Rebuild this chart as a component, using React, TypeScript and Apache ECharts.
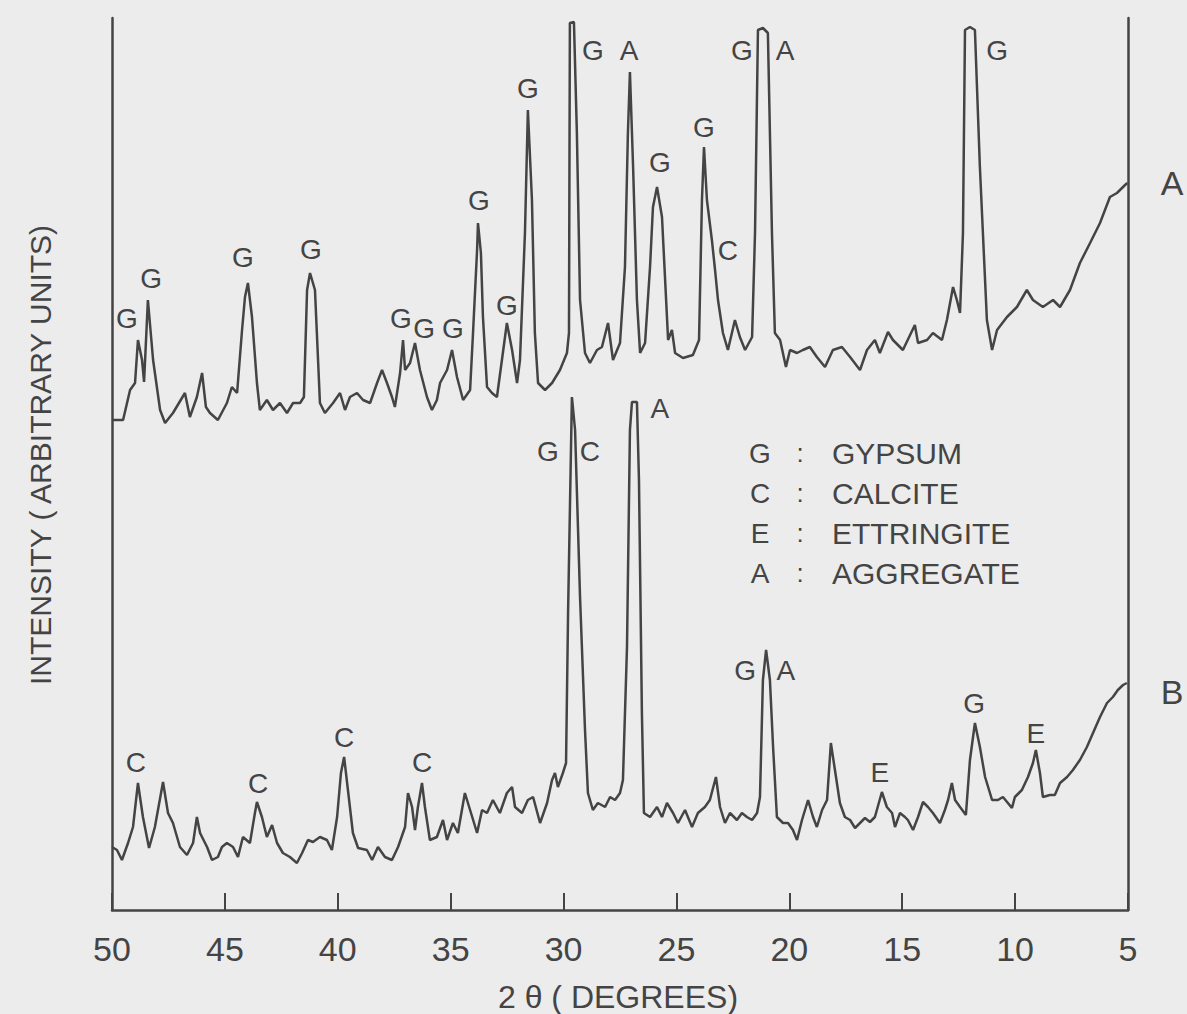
import React, { useEffect, useRef } from "react";
import * as echarts from "echarts";

// ---- Data (2θ in degrees, intensity in arbitrary units) ----
const twoThetaA = [
  49.96, 49.51, 49.2, 48.98, 48.85, 48.67, 48.58, 48.41, 48.18, 47.87,
  47.65, 47.3, 46.77, 46.55, 46.24, 46.01, 45.84, 45.66, 45.31, 44.91,
  44.69, 44.46, 44.24, 44.11, 43.98, 43.8, 43.58, 43.45, 43.14, 42.87,
  42.56, 42.25, 41.98, 41.67, 41.5, 41.36, 41.23, 41.01, 40.79, 40.57,
  40.21, 39.9, 39.68, 39.46, 39.15, 38.88, 38.57, 38.26, 38.04, 37.82,
  37.6, 37.47, 37.24, 37.11, 37.02, 36.8, 36.58, 36.36, 36.05, 35.83,
  35.61, 35.47, 35.16, 34.94, 34.72, 34.45, 34.14, 34.01, 33.83, 33.79,
  33.66, 33.57, 33.39, 33.17, 32.95, 32.73, 32.51, 32.28, 32.06, 31.93,
  31.71, 31.58, 31.4, 31.27, 31.13, 30.82, 30.51, 30.16, 29.85, 29.76,
  29.72, 29.54, 29.41, 29.27, 29.05, 28.83, 28.52, 28.3, 28.03, 27.81,
  27.5, 27.28, 27.15, 27.06, 26.92, 26.75, 26.61, 26.39, 26.17, 26.04,
  25.86, 25.64, 25.42, 25.37, 25.2, 25.06, 24.71, 24.27, 24.0, 23.87,
  23.78, 23.65, 23.43, 23.29, 23.16, 22.94, 22.72, 22.41, 22.19, 21.96,
  21.65, 21.52, 21.39, 21.17, 20.95, 20.77, 20.64, 20.41, 20.15, 19.97,
  19.66, 19.4, 19.09, 18.78, 18.42, 18.07, 17.67, 17.31, 16.87, 16.56,
  16.21, 15.99, 15.63, 15.41, 14.97, 14.44, 14.3, 13.9, 13.64, 13.24,
  13.02, 12.75, 12.58, 12.44, 12.31, 12.22, 12.0, 11.78, 11.56, 11.25,
  11.02, 10.8, 10.36, 9.92, 9.48, 9.21, 8.77, 8.32, 8.01, 7.57,
  7.13, 6.68, 6.24, 5.8, 5.49, 5.13, 5.03,
];
const intensityA = [
  490, 490, 520, 527, 570, 550, 528, 610, 550, 500,
  487, 497, 517, 493, 513, 537, 503, 497, 490, 507,
  523, 517, 580, 613, 627, 593, 527, 500, 510, 500,
  507, 497, 507, 507, 513, 620, 637, 620, 507, 497,
  507, 517, 500, 513, 517, 510, 507, 527, 540, 527,
  513, 503, 537, 570, 540, 547, 567, 540, 513, 500,
  510, 527, 540, 560, 533, 510, 520, 577, 660, 687,
  657, 593, 523, 517, 513, 550, 587, 560, 527, 550,
  677, 800, 710, 577, 527, 520, 527, 540, 557, 577,
  887, 888, 777, 610, 557, 547, 560, 563, 587, 550,
  567, 643, 777, 838, 743, 610, 557, 567, 643, 703,
  723, 693, 593, 570, 580, 557, 552, 555, 570, 710,
  763, 710, 670, 640, 610, 577, 560, 590, 573, 560,
  573, 677, 880, 882, 877, 677, 577, 570, 543, 560,
  557, 560, 563, 553, 543, 560, 563, 553, 540, 560,
  570, 557, 578, 570, 560, 585, 567, 570, 577, 570,
  590, 623, 610, 597, 677, 880, 883, 880, 743, 590,
  560, 580, 593, 603, 620, 610, 603, 610, 603, 620,
  647, 667, 687, 713, 717, 725, 727,
];

const twoThetaB = [
  50.0, 49.78, 49.56, 49.29, 49.07, 48.85, 48.63, 48.36, 48.1, 47.74,
  47.52, 47.3, 46.99, 46.68, 46.41, 46.24, 46.1, 45.79, 45.57, 45.31,
  45.13, 44.91, 44.64, 44.42, 44.2, 43.89, 43.67, 43.58, 43.36, 43.14,
  42.91, 42.69, 42.43, 42.12, 41.81, 41.58, 41.32, 41.1, 40.79, 40.48,
  40.26, 40.03, 39.86, 39.72, 39.55, 39.33, 39.1, 38.71, 38.48, 38.22,
  37.91, 37.6, 37.33, 37.02, 36.89, 36.71, 36.58, 36.45, 36.27, 36.14,
  35.92, 35.61, 35.34, 35.16, 34.9, 34.68, 34.37, 34.14, 33.83, 33.61,
  33.39, 33.13, 32.82, 32.51, 32.28, 32.15, 31.84, 31.58, 31.35, 31.04,
  30.73, 30.51, 30.38, 30.25, 30.03, 29.89, 29.8, 29.63, 29.49, 29.27,
  29.05, 28.92, 28.7, 28.48, 28.16, 27.94, 27.72, 27.5, 27.37, 27.19,
  27.06, 26.97, 26.75, 26.66, 26.53, 26.44, 26.17, 25.86, 25.64, 25.42,
  25.15, 24.93, 24.62, 24.31, 24.05, 23.74, 23.52, 23.25, 23.07, 22.85,
  22.63, 22.32, 22.1, 21.88, 21.65, 21.43, 21.3, 21.17, 21.03, 20.86,
  20.72, 20.55, 20.28, 20.06, 19.84, 19.66, 19.44, 19.17, 18.95, 18.78,
  18.55, 18.33, 18.16, 17.98, 17.76, 17.54, 17.31, 17.09, 16.87, 16.65,
  16.43, 16.21, 15.9, 15.68, 15.45, 15.32, 15.1, 14.88, 14.75, 14.52,
  14.3, 14.08, 13.86, 13.64, 13.33, 13.11, 12.97, 12.8, 12.66, 12.44,
  12.18, 12.0, 11.78, 11.56, 11.33, 11.02, 10.76, 10.54, 10.32, 10.14,
  10.01, 9.7, 9.43, 9.21, 9.08, 8.9, 8.77, 8.46, 8.24, 8.01,
  7.7, 7.44, 7.13, 6.82, 6.55, 6.24, 5.93, 5.67, 5.45, 5.22,
  5.05,
];
const intensityB = [
  63, 60, 50, 67, 83, 127, 93, 62, 83, 128,
  97, 87, 63, 55, 67, 93, 77, 63, 50, 53,
  63, 67, 63, 53, 73, 67, 97, 108, 93, 73,
  85, 67, 57, 53, 47, 57, 70, 68, 73, 70,
  60, 93, 137, 153, 120, 77, 62, 60, 50, 63,
  53, 50, 63, 83, 117, 103, 80, 103, 127, 103,
  70, 73, 90, 70, 87, 77, 117, 100, 77, 100,
  97, 110, 97, 117, 123, 103, 97, 110, 113, 87,
  107, 130, 137, 123, 137, 147, 297, 513, 480, 313,
  180, 117, 100, 107, 103, 113, 110, 117, 130, 263,
  480, 508, 508, 430, 197, 97, 93, 103, 93, 107,
  97, 87, 100, 83, 97, 103, 110, 133, 103, 87,
  97, 90, 97, 93, 90, 97, 113, 230, 260, 230,
  163, 93, 87, 87, 80, 70, 90, 110, 93, 83,
  100, 110, 167, 140, 107, 93, 90, 82, 87, 92,
  88, 93, 118, 103, 97, 83, 97, 93, 90, 80,
  93, 108, 103, 97, 87, 100, 110, 127, 110, 103,
  95, 150, 187, 163, 133, 110, 110, 113, 107, 102,
  113, 120, 133, 147, 160, 137, 113, 115, 115, 127,
  133, 140, 150, 163, 177, 193, 207, 213, 220, 225,
  227,
];

const xTicks = [50, 45, 40, 35, 30, 25, 20, 15, 10, 5];

// peak annotations: [letter, 2θ, intensity]
const peakLabelsA: [string, number, number][] = [
  ["G", 49.34, 592], ["G", 48.27, 632], ["G", 44.2, 653], ["G", 41.19, 661],
  ["G", 37.2, 592], ["G", 36.18, 582], ["G", 34.9, 582], ["G", 33.75, 710],
  ["G", 32.51, 605], ["G", 31.58, 822], ["G", 28.7, 860], ["A", 27.1, 860],
  ["G", 25.73, 748], ["G", 23.78, 783], ["C", 22.72, 660], ["G", 22.1, 860],
  ["A", 20.19, 860], ["G", 10.8, 860],
];
const peakLabelsB: [string, number, number][] = [
  ["C", 48.94, 148], ["C", 43.53, 127], ["C", 39.72, 173], ["C", 36.27, 148],
  ["G", 30.69, 459], ["C", 28.83, 459], ["A", 25.73, 502], ["G", 21.96, 240],
  ["A", 20.15, 240], ["E", 15.99, 138], ["G", 11.82, 207], ["E", 9.08, 177],
];
// curve names placed right of the frame: [name, 2θ, intensity]
const traceNames: [string, number, number][] = [
  ["A", 3.05, 727],
  ["B", 3.05, 218],
];

const keyLetters = ["G", "C", "E", "A"];
const keyNames = ["GYPSUM", "CALCITE", "ETTRINGITE", "AGGREGATE"];

const xTitle = "2 θ ( DEGREES)";
const yTitle = "INTENSITY ( ARBITRARY UNITS)";

const INK = "#444444";
const PAPER = "#ececec";
const FONT = "'Liberation Sans', Arial, 'DejaVu Sans', sans-serif";

export default function App() {
  const ref = useRef<HTMLDivElement>(null);

  useEffect(() => {
    document.body.style.margin = "0";
    document.body.style.background = PAPER;
    const chart = echarts.init(ref.current!, undefined, { renderer: "svg" });

    const lineA = twoThetaA.map((x, i) => [x, intensityA[i]]);
    const lineB = twoThetaB.map((x, i) => [x, intensityB[i]]);
    const labelData = [...peakLabelsA, ...peakLabelsB].map(([n, x, y]) => ({
      name: n,
      value: [x, y],
    }));
    const nameData = traceNames.map(([n, x, y]) => ({ name: n, value: [x, y] }));

    const keyGraphics: any[] = [];
    keyLetters.forEach((l, i) => {
      const y = 453 + i * 40;
      keyGraphics.push(
        { type: "text", x: 760, y, style: { text: l, fill: INK, font: `28px ${FONT}`, align: "center", verticalAlign: "middle" } },
        { type: "text", x: 800, y, style: { text: ":", fill: INK, font: `26px ${FONT}`, align: "center", verticalAlign: "middle" } },
        { type: "text", x: 832, y, style: { text: keyNames[i], fill: INK, font: `30px ${FONT}`, align: "left", verticalAlign: "middle" } }
      );
    });

    const labelStyle = (size: number) => ({
      show: true,
      position: "inside",
      formatter: "{b}",
      color: INK,
      opacity: 1,
      fontSize: size,
      fontFamily: FONT,
      textBorderWidth: 0,
    });

    chart.setOption({
      animation: false,
      backgroundColor: PAPER,
      grid: { left: 112, right: 59, top: 18, bottom: 104, containLabel: false },
      xAxis: {
        type: "value",
        min: 5,
        max: 50,
        interval: 5,
        inverse: true,
        axisLine: { show: true, onZero: false, lineStyle: { color: INK, width: 2.5 } },
        axisTick: { show: true, inside: true, length: 17, lineStyle: { color: INK, width: 2 } },
        axisLabel: {
          show: true,
          margin: 22,
          color: INK,
          fontSize: 34,
          fontFamily: FONT,
          formatter: (v: number) => (xTicks.includes(v) ? String(v) : ""),
        },
        splitLine: { show: false },
      },
      yAxis: [
        {
          type: "value",
          min: 0,
          max: 892,
          position: "left",
          axisLine: { show: true, lineStyle: { color: INK, width: 2.5 } },
          axisTick: { show: false },
          axisLabel: { show: false },
          splitLine: { show: false },
        },
        {
          type: "value",
          min: 0,
          max: 892,
          position: "right",
          axisLine: { show: true, lineStyle: { color: INK, width: 2.5 } },
          axisTick: { show: false },
          axisLabel: { show: false },
          splitLine: { show: false },
        },
      ],
      series: [
        {
          type: "line",
          name: "A",
          data: lineA,
          showSymbol: false,
          symbol: "none",
          lineStyle: { color: INK, width: 2.5 },
        },
        {
          type: "line",
          name: "B",
          data: lineB,
          showSymbol: false,
          symbol: "none",
          lineStyle: { color: INK, width: 2.5 },
        },
        {
          type: "scatter",
          data: labelData,
          symbolSize: 0.01,
          itemStyle: { color: INK, opacity: 1 },
          clip: false,
          silent: true,
          label: labelStyle(28),
        },
        {
          type: "scatter",
          data: nameData,
          symbolSize: 0.01,
          itemStyle: { color: INK, opacity: 1 },
          clip: false,
          silent: true,
          label: labelStyle(34),
        },
      ],
      graphic: [
        {
          type: "text",
          x: 40,
          y: 455,
          rotation: Math.PI / 2,
          style: { text: yTitle, fill: INK, font: `30px ${FONT}`, align: "center", verticalAlign: "middle" },
        },
        {
          type: "text",
          x: 618,
          y: 997,
          style: { text: xTitle, fill: INK, font: `32px ${FONT}`, align: "center", verticalAlign: "middle" },
        },
        ...keyGraphics,
      ],
    });

    return () => chart.dispose();
  }, []);

  return <div ref={ref} style={{ width: 1187, height: 1014 }} />;
}
